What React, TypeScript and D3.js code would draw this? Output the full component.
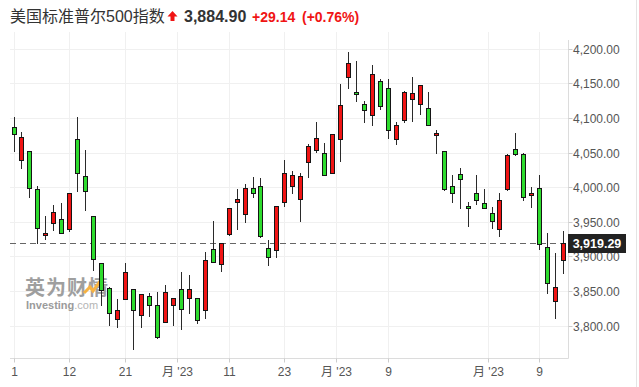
// @ts-nocheck
import { useEffect, useRef } from 'react';
import * as d3 from 'd3';

// daily candles, Dec 1 2022 .. Mar 14 2023
const dates = [
  '2022-12-01', '2022-12-02', '2022-12-05', '2022-12-06', '2022-12-07', '2022-12-08', '2022-12-09',
  '2022-12-12', '2022-12-13', '2022-12-14', '2022-12-15', '2022-12-16', '2022-12-19', '2022-12-20',
  '2022-12-21', '2022-12-22', '2022-12-23', '2022-12-27', '2022-12-28', '2022-12-29', '2022-12-30',
  '2023-01-03', '2023-01-04', '2023-01-05', '2023-01-06', '2023-01-09', '2023-01-10', '2023-01-11',
  '2023-01-12', '2023-01-13', '2023-01-17', '2023-01-18', '2023-01-19', '2023-01-20', '2023-01-23',
  '2023-01-24', '2023-01-25', '2023-01-26', '2023-01-27', '2023-01-30', '2023-01-31', '2023-02-01',
  '2023-02-02', '2023-02-03', '2023-02-06', '2023-02-07', '2023-02-08', '2023-02-09', '2023-02-10',
  '2023-02-13', '2023-02-14', '2023-02-15', '2023-02-16', '2023-02-17', '2023-02-21', '2023-02-22',
  '2023-02-23', '2023-02-24', '2023-02-27', '2023-02-28', '2023-03-01', '2023-03-02', '2023-03-03',
  '2023-03-06', '2023-03-07', '2023-03-08', '2023-03-09', '2023-03-10', '2023-03-13', '2023-03-14'
];
const opens = [
  4087, 4040, 4052, 3997, 3933, 3948, 3954,
  3939, 4069, 4016, 3958, 3891, 3854, 3810,
  3839, 3853, 3815, 3843, 3830, 3805, 3829,
  3853, 3840, 3840, 3823, 3911, 3889, 3932,
  3978, 3961, 3999, 4002, 3912, 3909, 3978,
  4002, 3983, 4036, 4054, 4049, 4021, 4070,
  4159, 4137, 4120, 4105, 4153, 4144, 4069,
  4097, 4127, 4120, 4115, 4077, 4052, 4002,
  4019, 3973, 3992, 3977, 3963, 3939, 3998,
  4055, 4048, 3988, 3999, 3913, 3835, 3894
];
const highs = [
  4101, 4080, 4052, 4002, 3958, 3974, 3977,
  3991, 4101, 4054, 3958, 3891, 3855, 3838,
  3890, 3853, 3846, 3847, 3848, 3858, 3840,
  3878, 3873, 3840, 3906, 3951, 3920, 3970,
  3998, 4004, 4015, 4014, 3923, 3973, 4039,
  4024, 4020, 4062, 4094, 4064, 4077, 4149,
  4195, 4182, 4125, 4177, 4157, 4156, 4094,
  4139, 4160, 4148, 4137, 4082, 4052, 4017,
  4028, 3978, 4018, 3998, 3972, 3991, 4048,
  4078, 4050, 4000, 4018, 3934, 3905, 3937
];
const lows = [
  4051, 4027, 3984, 3918, 3923, 3936, 3933,
  3935, 3993, 3966, 3879, 3828, 3800, 3796,
  3839, 3764, 3797, 3813, 3781, 3805, 3800,
  3794, 3816, 3802, 3810, 3890, 3877, 3929,
  3938, 3948, 3985, 3927, 3886, 3898, 3972,
  3990, 3949, 4013, 4049, 4016, 4020, 4037,
  4142, 4123, 4093, 4088, 4112, 4070, 4061,
  4093, 4095, 4104, 4089, 4048, 3995, 3977,
  3969, 3943, 3974, 3969, 3939, 3928, 3995,
  4045, 3980, 3970, 3909, 3846, 3809, 3874
];
const closes = [
  4077, 4072, 3999, 3941, 3934, 3964, 3934,
  3991, 4020, 3995, 3896, 3852, 3818, 3822,
  3878, 3822, 3845, 3829, 3783, 3849, 3840,
  3824, 3853, 3808, 3895, 3892, 3919, 3970,
  3983, 3999, 3991, 3929, 3899, 3973, 4020,
  4017, 4016, 4060, 4071, 4018, 4077, 4119,
  4180, 4136, 4111, 4164, 4118, 4082, 4090,
  4137, 4136, 4148, 4090, 4079, 3997, 3991,
  4012, 3970, 3982, 3970, 3951, 3981, 4046,
  4048, 3986, 3992, 3918, 3862, 3856, 3919.29
];

const priceTicks = [3800, 3850, 3900, 3950, 4000, 4050, 4100, 4150, 4200];
const tickDates = [
  '2022-12-01', '2022-12-12', '2022-12-21', '2023-01-03', '2023-01-11',
  '2023-01-23', '2023-02-01', '2023-02-09', '2023-03-01', '2023-03-09'
];
const tickLabels = ['1', '12', '21', "月 '23", '11', '23', "月 '23", '9', "月 '23", '9'];

const lastPrice = 3919.29;
const titleName = '美国标准普尔500指数';
const titlePrice = '3,884.90';
const titleChange = '+29.14';
const titlePct = '(+0.76%)';

const W = 639;
const H = 387;
const UP = '#f01414';
const DOWN = '#2edc2e';
const FONT = "'Liberation Sans', Arial, 'Noto Sans CJK SC', sans-serif";

export default function App() {
  const svgRef = useRef(null);

  useEffect(() => {
    if (!svgRef.current) return;
    const svg = d3.select(svgRef.current);
    svg.selectAll('*').remove();

    const plotLeft = 10;
    const plotRight = 568.5;
    const plotTop = 32;
    const plotBottom = 358.5;

    const y = d3.scaleLinear().domain([3800, 4200]).range([325.5, 48.9]);
    const x = d3.scaleLinear().domain([0, dates.length - 1]).range([13.5, 563.2]);

    svg.append('rect').attr('width', W).attr('height', H).attr('fill', '#fff');

    // title
    const title = svg.append('g').attr('font-family', FONT);
    title.append('text').attr('x', 10).attr('y', 22).attr('font-size', '16px').attr('fill', '#333').text(titleName);
    title.append('path')
      .attr('d', 'M172.5,11 L177.5,16.5 L174.5,16.5 L174.5,21 L170.5,21 L170.5,16.5 L167.5,16.5 Z')
      .attr('fill', UP);
    title.append('text').attr('x', 184).attr('y', 22).attr('font-size', '16px').attr('font-weight', 'bold').attr('fill', '#333').text(titlePrice);
    title.append('text').attr('x', 252).attr('y', 21.5).attr('font-size', '14px').attr('font-weight', 'bold').attr('fill', UP).text(titleChange);
    title.append('text').attr('x', 302).attr('y', 21.5).attr('font-size', '14px').attr('font-weight', 'bold').attr('fill', UP).text(titlePct);

    // grid
    const grid = svg.append('g');
    priceTicks.forEach((p) => {
      const yy = Math.round(y(p)) + 0.5;
      grid.append('line').attr('x1', plotLeft).attr('x2', plotRight).attr('y1', yy).attr('y2', yy)
        .attr('stroke', '#f0f0f0').attr('stroke-width', 1);
    });
    const tickPos = tickDates.map((d, i) => {
      const idx = dates.indexOf(d);
      return x(tickLabels[i].startsWith('月') ? idx - 0.5 : idx);
    });
    tickPos.forEach((tx) => {
      const xx = Math.round(tx) + 0.5;
      grid.append('line').attr('x1', xx).attr('x2', xx).attr('y1', plotTop).attr('y2', plotBottom)
        .attr('stroke', '#f0f0f0').attr('stroke-width', 1);
    });

    // watermark
    const wm = svg.append('g').attr('opacity', 0.85);
    wm.append('text').attr('x', 25).attr('y', 294.5).attr('font-family', "'Noto Sans CJK SC', sans-serif")
      .attr('font-size', '20px').attr('font-weight', 'bold').attr('fill', '#8f8f8f').attr('letter-spacing', '1')
      .text('英为财情');
    wm.append('path').attr('d', 'M84,293 L90,287 L93,291 L101,280')
      .attr('fill', 'none').attr('stroke', '#f5a623').attr('stroke-width', 3);
    const inv = wm.append('text').attr('x', 26).attr('y', 309).attr('font-family', FONT).attr('font-size', '11px').attr('fill', '#8a8a8a');
    inv.append('tspan').attr('font-weight', 'bold').text('Investing');
    inv.append('tspan').attr('fill', '#a8a8a8').text('.com');

    // axes
    svg.append('line').attr('x1', plotLeft).attr('x2', plotRight).attr('y1', plotBottom).attr('y2', plotBottom)
      .attr('stroke', '#dcdcdc');
    svg.append('line').attr('x1', plotRight).attr('x2', plotRight).attr('y1', plotTop + 8).attr('y2', plotBottom)
      .attr('stroke', '#dcdcdc');
    svg.append('line').attr('x1', 636.5).attr('x2', 636.5).attr('y1', 0).attr('y2', H)
      .attr('stroke', '#e4e4e4');

    const xAxis = svg.append('g').attr('font-family', FONT).attr('font-size', '12px').attr('fill', '#555');
    tickPos.forEach((tx, i) => {
      const xx = Math.round(tx) + 0.5;
      xAxis.append('line').attr('x1', xx).attr('x2', xx).attr('y1', plotBottom).attr('y2', plotBottom + 4)
        .attr('stroke', '#ccc');
      xAxis.append('text').attr('x', xx).attr('y', 376).attr('text-anchor', 'middle').text(tickLabels[i]);
    });

    const yAxis = svg.append('g').attr('font-family', FONT).attr('font-size', '12px').attr('fill', '#555');
    priceTicks.forEach((p) => {
      const yy = Math.round(y(p)) + 0.5;
      yAxis.append('line').attr('x1', plotRight).attr('x2', plotRight + 4).attr('y1', yy).attr('y2', yy)
        .attr('stroke', '#ccc');
      yAxis.append('text').attr('x', 573).attr('y', yy).attr('dominant-baseline', 'central')
        .text(d3.format(',.2f')(p));
    });

    // last price line
    const ly = Math.round(y(lastPrice)) + 0.5;
    svg.append('line').attr('x1', plotLeft).attr('x2', plotRight).attr('y1', ly).attr('y2', ly)
      .attr('stroke', '#666').attr('stroke-width', 1.2).attr('stroke-dasharray', '6,4');

    // candles
    const candles = svg.append('g');
    dates.forEach((d, i) => {
      const cx = Math.round(x(i));
      const o = opens[i];
      const c = closes[i];
      candles.append('line')
        .attr('x1', cx + 0.5).attr('x2', cx + 0.5)
        .attr('y1', Math.round(y(highs[i]))).attr('y2', Math.round(y(lows[i])))
        .attr('stroke', '#2a2a2a').attr('stroke-width', 1);
      const top = Math.round(y(Math.max(o, c))) + 0.5;
      let bot = Math.round(y(Math.min(o, c))) + 0.5;
      if (bot - top < 2) bot = top + 2;
      candles.append('rect')
        .attr('x', cx - 1.5).attr('y', top).attr('width', 4).attr('height', bot - top)
        .attr('fill', c >= o ? UP : DOWN)
        .attr('stroke', '#151515').attr('stroke-width', 1);
    });

    // last price tag
    svg.append('rect').attr('x', 568).attr('y', ly - 9.5).attr('width', 58).attr('height', 19).attr('fill', '#222');
    svg.append('text').attr('x', 597).attr('y', ly).attr('text-anchor', 'middle').attr('dominant-baseline', 'central')
      .attr('font-family', FONT).attr('font-size', '12.5px').attr('font-weight', 'bold').attr('fill', '#fff')
      .text(d3.format(',.2f')(lastPrice));
  }, []);

  return (
    <svg ref={svgRef} width={W} height={H} style={{ position: 'absolute', left: 0, top: 0 }} />
  );
}
